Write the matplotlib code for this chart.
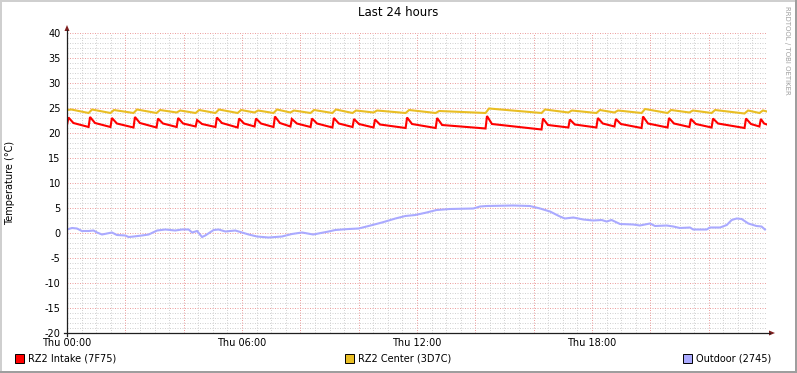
# plot.py
# Redraws the RRDtool temperature graph of the last 24 hours

import numpy as np
import matplotlib.pyplot as plt
from matplotlib.lines import Line2D
from matplotlib.patches import Polygon, Rectangle

W, H = 797, 373

# hours since Thu 00:00 and temperature in degrees C
intake_hours = [
    0.00, 0.05, 0.22, 0.74, 0.79, 0.96, 1.49, 1.54, 1.71, 2.28, 2.33, 2.50,
    3.07, 3.12, 3.29, 3.76, 3.81, 3.98, 4.41, 4.46, 4.63, 5.09, 5.14, 5.31,
    5.85, 5.90, 6.07, 6.43, 6.48, 6.65, 7.08, 7.13, 7.30, 7.66, 7.71, 7.88,
    8.35, 8.40, 8.57, 9.10, 9.15, 9.32, 9.79, 9.84, 10.01, 10.51, 10.56, 10.73,
    11.61, 11.66, 11.83, 12.64, 12.69, 12.86, 14.35, 14.40, 14.57, 16.27, 16.32, 16.49,
    17.19, 17.24, 17.41, 18.15, 18.20, 18.37, 18.77, 18.82, 18.99, 19.70, 19.75, 19.92,
    20.59, 20.64, 20.81, 21.34, 21.39, 21.56, 22.10, 22.15, 22.32, 23.23, 23.28, 23.45,
    23.74, 23.79, 23.90, 24.00,
]
intake_temp = [
    21.6, 23.1, 22.0, 21.2, 23.2, 22.0, 21.2, 23.0, 21.9, 21.1, 23.2, 22.0,
    21.1, 22.9, 21.9, 21.2, 23.0, 21.9, 21.3, 22.6, 21.8, 21.2, 23.1, 22.0,
    21.1, 22.9, 21.9, 21.3, 22.9, 21.9, 21.2, 23.3, 22.0, 21.3, 22.8, 21.9,
    21.2, 22.9, 21.9, 21.1, 23.0, 21.9, 21.2, 22.8, 21.8, 21.1, 22.7, 21.7,
    21.0, 23.1, 21.8, 21.0, 23.0, 21.6, 20.9, 23.4, 21.8, 20.7, 22.9, 21.6,
    21.1, 22.7, 21.7, 21.1, 23.0, 21.9, 21.3, 22.8, 21.8, 21.0, 23.3, 21.9,
    21.1, 23.0, 21.9, 21.2, 22.8, 21.8, 21.1, 22.9, 21.9, 21.0, 22.9, 21.8,
    21.3, 22.8, 21.9, 21.7,
]

center_hours = [
    0.00, 0.15, 0.74, 0.86, 1.49, 1.61, 2.28, 2.40, 3.07, 3.19, 3.76, 3.88,
    4.41, 4.53, 5.09, 5.21, 5.85, 5.97, 6.43, 6.55, 7.08, 7.20, 7.66, 7.78,
    8.35, 8.47, 9.10, 9.22, 9.79, 9.91, 10.51, 10.63, 11.61, 11.73, 12.64, 12.76,
    14.35, 14.47, 16.27, 16.39, 17.19, 17.31, 18.15, 18.27, 18.77, 18.89,
    19.70, 19.82, 20.59, 20.71, 21.34, 21.46, 22.10, 22.22, 23.23, 23.35,
    23.74, 23.86, 24.00,
]
center_temp = [
    24.6, 24.7, 24.0, 24.7, 24.0, 24.6, 24.0, 24.7, 24.0, 24.6, 24.1, 24.5,
    24.0, 24.6, 24.0, 24.7, 24.0, 24.6, 24.1, 24.5, 24.0, 24.7, 24.1, 24.5,
    24.0, 24.6, 24.0, 24.7, 24.0, 24.5, 24.1, 24.5, 24.0, 24.6, 24.0, 24.4,
    24.0, 24.9, 24.0, 24.7, 24.1, 24.5, 24.0, 24.6, 24.1, 24.5,
    24.0, 24.8, 24.0, 24.6, 24.1, 24.5, 24.0, 24.6, 23.9, 24.5,
    24.0, 24.5, 24.3,
]

outdoor_hours = [
    0.00, 0.17, 0.34, 0.51, 0.74, 0.91, 1.03, 1.20, 1.37, 1.54, 1.71, 2.00,
    2.11, 2.29, 2.57, 2.80, 3.09, 3.37, 3.71, 3.94, 4.17, 4.29, 4.46, 4.63,
    4.74, 5.03, 5.20, 5.43, 5.77, 6.00, 6.23, 6.51, 6.91, 7.37, 7.71, 8.06,
    8.44, 8.97, 9.20, 9.66, 10.00, 10.34, 10.80, 11.26, 11.60, 11.94, 12.33, 12.67,
    13.13, 13.93, 14.16, 14.39, 15.30, 15.87, 16.22, 16.56, 16.90, 17.07, 17.36, 17.70,
    18.04, 18.33, 18.50, 18.67, 18.96, 19.41, 19.64, 19.99, 20.16, 20.56, 20.79, 21.01,
    21.36, 21.47, 21.93, 22.04, 22.39, 22.62, 22.79, 22.96, 23.13, 23.36, 23.64, 23.81,
    23.93,
]
outdoor_temp = [
    0.7, 1.0, 0.9, 0.4, 0.4, 0.5, 0.1, -0.3, -0.1, 0.1, -0.4, -0.5,
    -0.8, -0.7, -0.5, -0.3, 0.5, 0.7, 0.5, 0.7, 0.7, 0.1, 0.4, -0.8,
    -0.5, 0.6, 0.7, 0.3, 0.5, 0.1, -0.3, -0.7, -0.9, -0.7, -0.2, 0.1,
    -0.3, 0.3, 0.6, 0.8, 0.9, 1.4, 2.1, 2.9, 3.4, 3.6, 4.1, 4.6,
    4.8, 4.9, 5.3, 5.4, 5.5, 5.4, 4.9, 4.3, 3.3, 2.9, 3.1, 2.7,
    2.5, 2.6, 2.3, 2.6, 1.8, 1.7, 1.5, 1.9, 1.4, 1.5, 1.3, 1.0,
    1.1, 0.7, 0.7, 1.1, 1.1, 1.6, 2.6, 2.9, 2.8, 1.9, 1.4, 1.3,
    0.7,
]

x_ticks = [0, 6, 12, 18]
x_labels = ["Thu 00:00", "Thu 06:00", "Thu 12:00", "Thu 18:00"]
y_ticks = list(range(-20, 41, 5))

series = [
    ("RZ2 Intake (7F75)", intake_hours, intake_temp, "#ff0000"),
    ("RZ2 Center (3D7C)", center_hours, center_temp, "#e9be24"),
    ("Outdoor (2745)", outdoor_hours, outdoor_temp, "#aaaaff"),
]
legend_x = [15, 345, 683]


def fx(px):
    return px / W


def fy(py):
    return 1 - py / H


def frame_strip(fig, x0, y0, x1, y1, color):
    """Filled strip given in picture pixels (top-left origin)"""
    fig.patches.append(Rectangle((fx(x0), fy(y1)), fx(x1) - fx(x0), fy(y0) - fy(y1),
                                 transform=fig.transFigure, color=color, lw=0, zorder=-5))


def main():
    plt.rc("font", family="DejaVu Sans")
    plt.rc("axes", unicode_minus=False)
    fig = plt.figure(figsize=(W / 100, H / 100), dpi=100, facecolor="white")

    # 3d style frame of the rrdtool canvas
    frame_strip(fig, 0, 0, W, 2, "#cfcfcf")
    frame_strip(fig, 0, 0, 2, H, "#cfcfcf")
    frame_strip(fig, 0, H - 2, W, H, "#9e9e9e")
    frame_strip(fig, W - 2, 0, W, H, "#9e9e9e")

    ax = fig.add_axes([fx(67), fy(333), fx(767) - fx(67), fy(33) - fy(333)])
    ax.set_xlim(0, 24)
    ax.set_ylim(-20, 40)
    ax.patch.set_alpha(0)
    for s in ax.spines.values():
        s.set_visible(False)

    # grid: minor every 30 min / 1 degree, major every 2 h / 5 degrees
    grid = dict(lw=0.72, ls=(0, (1, 1.5)))
    for h in np.arange(0.5, 24.01, 0.5):
        if h % 2:
            ax.axvline(h, color="#d2d2d2", zorder=0, **grid)
    for v in range(-19, 41):
        if v % 5:
            ax.axhline(v, color="#d2d2d2", zorder=0, **grid)
    for h in range(2, 25, 2):
        ax.axvline(h, color="#eca0a0", zorder=1, **grid)
    for v in range(-15, 41, 5):
        ax.axhline(v, color="#eca0a0", zorder=1, **grid)

    for label, hours, temp, color in series:
        ax.plot(hours, temp, color=color, lw=1.5, solid_joinstyle="miter", zorder=3)

    ax.set_xticks(x_ticks, x_labels)
    ax.set_yticks(y_ticks)
    ax.tick_params(length=0, labelsize=7, colors="black")
    ax.tick_params(axis="y", pad=4.5)
    ax.tick_params(axis="x", pad=3.5)

    # axes with arrows
    fig.lines.append(Line2D([fx(67), fx(67)], [fy(336), fy(30)], transform=fig.transFigure, color="#1f1f1f", lw=0.9))
    fig.lines.append(Line2D([fx(64), fx(770)], [fy(333), fy(333)], transform=fig.transFigure, color="#1f1f1f", lw=0.9))
    fig.patches.append(Polygon([(fx(64.5), fy(31)), (fx(69.5), fy(31)), (fx(67), fy(25))],
                               transform=fig.transFigure, color="#7f1f1f", lw=0))
    fig.patches.append(Polygon([(fx(769), fy(330.5)), (fx(769), fy(335.5)), (fx(775), fy(333))],
                               transform=fig.transFigure, color="#7f1f1f", lw=0))

    fig.text(fx(398), fy(13), "Last 24 hours", ha="center", va="center", fontsize=8.5)
    fig.text(fx(10), fy(183), "Temperature (°C)", ha="center", va="center", rotation=90, fontsize=7)
    fig.text(fx(787), fy(6), "RRDTOOL / TOBI OETIKER", ha="center", va="top", rotation=270,
             fontsize=5, color="#a0a0a0")

    for (label, _, _, color), lx in zip(series, legend_x):
        fig.patches.append(Rectangle((fx(lx), fy(363)), fx(9), fy(354) - fy(363), transform=fig.transFigure,
                                     facecolor=color, edgecolor="black", lw=0.7))
        fig.text(fx(lx + 13), fy(358.5), label, ha="left", va="center", fontsize=7)

    fig.savefig("out.png", dpi=100, facecolor="white")


if __name__ == "__main__":
    main()
